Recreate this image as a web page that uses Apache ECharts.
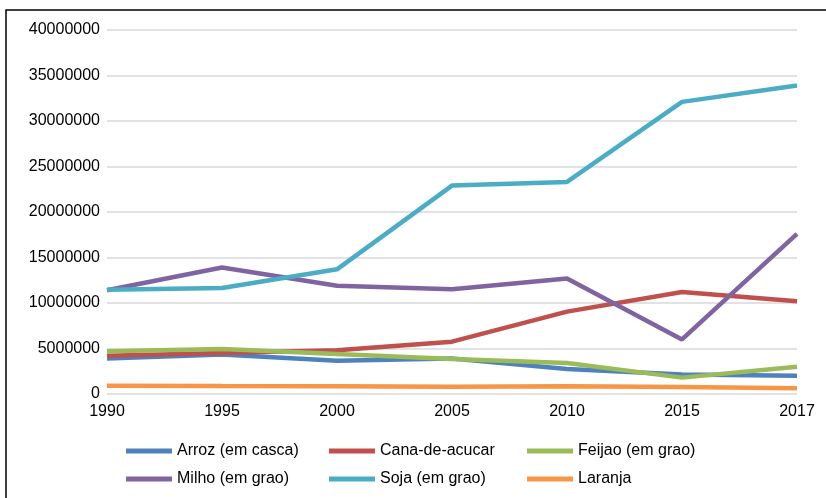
<!DOCTYPE html>
<html>
<head>
<meta charset="utf-8">
<script src="https://cdn.jsdelivr.net/npm/echarts@6/dist/echarts.min.js"></script>
<style>
html,body{margin:0;padding:0;background:#fff;}
#main{width:826px;height:498px;}
</style>
</head>
<body>
<div id="main"></div>
<script>
// anos (eixo x)
var anos = ['1990','1995','2000','2005','2010','2015','2017'];
// valores
var arroz   = [3900000, 4350000, 3650000, 3900000, 2750000, 2150000, 2000000];
var cana    = [4200000, 4500000, 4800000, 5750000, 9050000, 11200000, 10200000];
var feijao  = [4700000, 4950000, 4400000, 3850000, 3400000, 1800000, 3000000];
var milho   = [11400000, 13900000, 11900000, 11500000, 12700000, 6000000, 17600000];
var soja    = [11450000, 11650000, 13700000, 22900000, 23300000, 32100000, 33900000];
var laranja = [900000, 870000, 850000, 800000, 850000, 780000, 620000];

var nomes = ['Arroz (em casca)','Cana-de-acucar','Feijao (em grao)','Milho (em grao)','Soja (em grao)','Laranja'];
var cores = ['#4F81BD','#C0504D','#9BBB59','#8064A2','#4BACC6','#F79646'];
var dados = [arroz, cana, feijao, milho, soja, laranja];

var fonte = '"Liberation Sans", Arial, sans-serif';

var chart = echarts.init(document.getElementById('main'));

function serie(i){
	return {
		name: nomes[i],
		type: 'line',
		data: dados[i],
		symbol: 'none',
		lineStyle: {width: 4.5, color: cores[i]},
		itemStyle: {color: cores[i]},
		z: 2 + i
	};
}

function legenda(left, itens){
	return {
		orient: 'vertical',
		left: left,
		top: 441,
		padding: 0,
		data: itens,
		icon: 'rect',
		itemWidth: 46,
		itemHeight: 5,
		itemGap: 8,
		textStyle: {fontFamily: fonte, fontSize: 16, color: '#000', lineHeight: 20}
	};
}

var option = {
	animation: false,
	color: cores,
	graphic: [{
		type: 'rect',
		shape: {x: 6, y: 10, width: 900, height: 600},
		style: {fill: 'none', stroke: '#000', lineWidth: 1.5},
		silent: true
	}],
	grid: {left: 107, right: 29, top: 30, bottom: 104},
	legend: [
		legenda(126, [nomes[0], nomes[3]]),
		legenda(329, [nomes[1], nomes[4]]),
		legenda(527, [nomes[2], nomes[5]])
	],
	xAxis: {
		type: 'category',
		data: anos,
		boundaryGap: false,
		axisTick: {show: false},
		axisLine: {show: false},
		axisLabel: {fontFamily: fonte, fontSize: 16, color: '#000', margin: 10}
	},
	yAxis: {
		type: 'value',
		min: 0,
		max: 40000000,
		interval: 5000000,
		axisLine: {show: false},
		axisTick: {show: false},
		splitLine: {lineStyle: {color: '#D9D9D9', width: 1.5}},
		axisLabel: {
			fontFamily: fonte, fontSize: 16, color: '#000', margin: 7,
			formatter: function(v){ return String(v); }
		}
	},
	series: [0,1,2,3,4,5].map(serie)
};

chart.setOption(option);
</script>
</body>
</html>
